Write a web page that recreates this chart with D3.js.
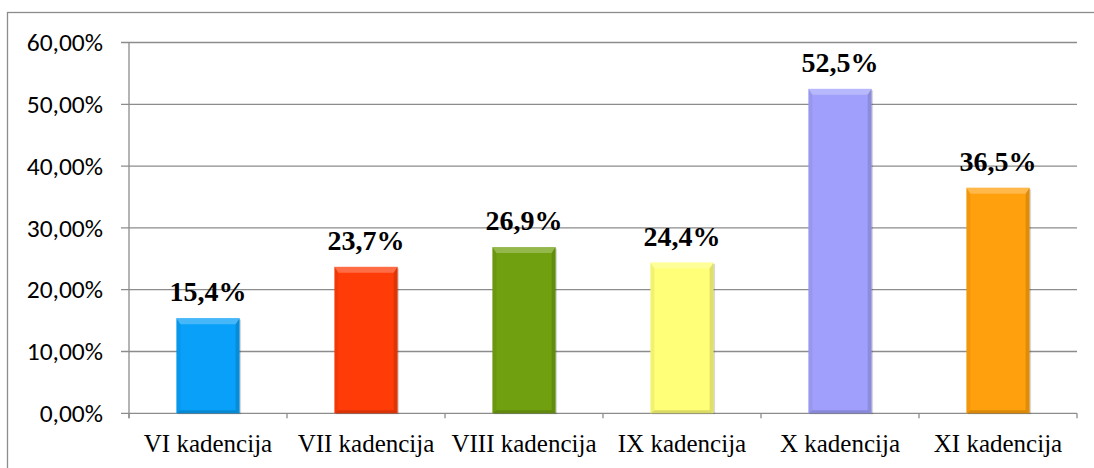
<!DOCTYPE html>
<html>
<head>
<meta charset="utf-8">
<script src="https://d3js.org/d3.v7.min.js"></script>
<style>
  body { margin: 0; background: #fff; }
</style>
</head>
<body>
<div id="chart"></div>
<script>
// Data
var categories = ["VI kadencija", "VII kadencija", "VIII kadencija", "IX kadencija", "X kadencija", "XI kadencija"];
var values = [15.4, 23.7, 26.9, 24.4, 52.5, 36.5];
var valueLabels = ["15,4%", "23,7%", "26,9%", "24,4%", "52,5%", "36,5%"];
var yTicks = [0, 10, 20, 30, 40, 50, 60];
var yTickLabels = ["0,00%", "10,00%", "20,00%", "30,00%", "40,00%", "50,00%", "60,00%"];
var barColors = ["#08a0f8", "#ff3c08", "#70a010", "#ffff78", "#a0a0fc", "#ffa00c"];

// Chart area
var svgWidth = 1094;
var svgHeight = 468;
var plot = { left: 129, right: 1077, top: 42.5, bottom: 413.3 };

var svg = d3.select("#chart")
    .append("svg")
    .attr("width", svgWidth)
    .attr("height", svgHeight);

// outer frame (cut off on right and bottom)
svg.append("rect")
    .attr("x", 7.5)
    .attr("y", 12.5)
    .attr("width", svgWidth + 20)
    .attr("height", svgHeight + 20)
    .attr("fill", "none")
    .attr("stroke", "#8c8c8c")
    .attr("stroke-width", 1.3);

// Scales
var x = d3.scaleBand()
    .domain(categories)
    .range([plot.left, plot.right])
    .paddingInner(0.6)
    .paddingOuter(0.3);

var y = d3.scaleLinear()
    .domain([0, 60])
    .range([plot.bottom, plot.top]);

// Gridlines + y ticks
svg.append("g")
    .selectAll("line")
    .data(yTicks)
    .enter()
    .append("line")
    .attr("x1", plot.left - 8)
    .attr("x2", plot.right)
    .attr("y1", d => y(d))
    .attr("y2", d => y(d))
    .attr("stroke", "#8c8c8c")
    .attr("stroke-width", 1.3);

svg.append("g")
    .selectAll("text")
    .data(yTicks)
    .enter()
    .append("text")
    .style("font-family", "Carlito")
    .style("font-size", "25.5px")
    .attr("x", 103)
    .attr("y", d => y(d))
    .attr("dy", "0.34em")
    .attr("text-anchor", "end")
    .text((d, i) => yTickLabels[i]);

// y axis line
svg.append("line")
    .attr("x1", plot.left)
    .attr("x2", plot.left)
    .attr("y1", plot.top)
    .attr("y2", plot.bottom + 5)
    .attr("stroke", "#8c8c8c")
    .attr("stroke-width", 1.3);

// x axis ticks at band edges
var step = x.step();
var edges = d3.range(categories.length + 1).map(i => plot.left + i * step);
svg.append("g")
    .selectAll("line")
    .data(edges)
    .enter()
    .append("line")
    .attr("x1", d => d)
    .attr("x2", d => d)
    .attr("y1", plot.bottom)
    .attr("y2", plot.bottom + 5)
    .attr("stroke", "#8c8c8c")
    .attr("stroke-width", 1.3);

svg.append("g")
    .selectAll("text")
    .data(categories)
    .enter()
    .append("text")
    .style("font-family", "Liberation Serif")
    .style("font-size", "25px")
    .attr("x", d => x(d) + x.bandwidth() / 2)
    .attr("y", 451.5)
    .attr("text-anchor", "middle")
    .text(d => d);

// Bars with a bevel look
var bars = svg.append("g")
    .selectAll("g")
    .data(values)
    .enter()
    .append("g");

var bw = x.bandwidth();
var tb = 6, sb = 4, bb = 3;

// soft shadow
bars.append("rect")
    .attr("x", (d, i) => x(categories[i]) + 1.5)
    .attr("y", d => y(d) + 1.5)
    .attr("width", bw)
    .attr("height", d => plot.bottom - y(d) - 0.5)
    .attr("fill", "#000")
    .attr("opacity", 0.15);

bars.append("rect")
    .attr("x", (d, i) => x(categories[i]))
    .attr("y", d => y(d))
    .attr("width", bw)
    .attr("height", d => plot.bottom - y(d))
    .attr("fill", (d, i) => barColors[i]);

function bevel(sel, pts, fill, op) {
    sel.append("polygon")
        .attr("points", function (d, i) {
            var x0 = x(categories[i]), x1 = x0 + bw, y0 = y(d), y1 = plot.bottom;
            return pts(x0, x1, y0, y1).map(p => p.join(",")).join(" ");
        })
        .attr("fill", fill)
        .attr("opacity", op);
}

// top (light)
bevel(bars, (x0, x1, y0, y1) => [[x0, y0], [x1, y0], [x1 - sb, y0 + tb], [x0 + sb, y0 + tb]], "#fff", 0.25);
// left (slightly dark)
bevel(bars, (x0, x1, y0, y1) => [[x0, y0], [x0 + sb, y0 + tb], [x0 + sb, y1 - bb], [x0, y1]], "#000", 0.05);
// right (dark)
bevel(bars, (x0, x1, y0, y1) => [[x1, y0], [x1 - sb, y0 + tb], [x1 - sb, y1 - bb], [x1, y1]], "#000", 0.12);
// bottom (dark)
bevel(bars, (x0, x1, y0, y1) => [[x0, y1], [x0 + sb, y1 - bb], [x1 - sb, y1 - bb], [x1, y1]], "#000", 0.15);

// value labels
svg.append("g")
    .selectAll("text")
    .data(values)
    .enter()
    .append("text")
    .style("font-family", "Liberation Serif")
    .style("font-size", "28px")
    .style("font-weight", "bold")
    .attr("x", (d, i) => x(categories[i]) + bw / 2)
    .attr("y", d => y(d) - 17)
    .attr("text-anchor", "middle")
    .text((d, i) => valueLabels[i]);
</script>
</body>
</html>
